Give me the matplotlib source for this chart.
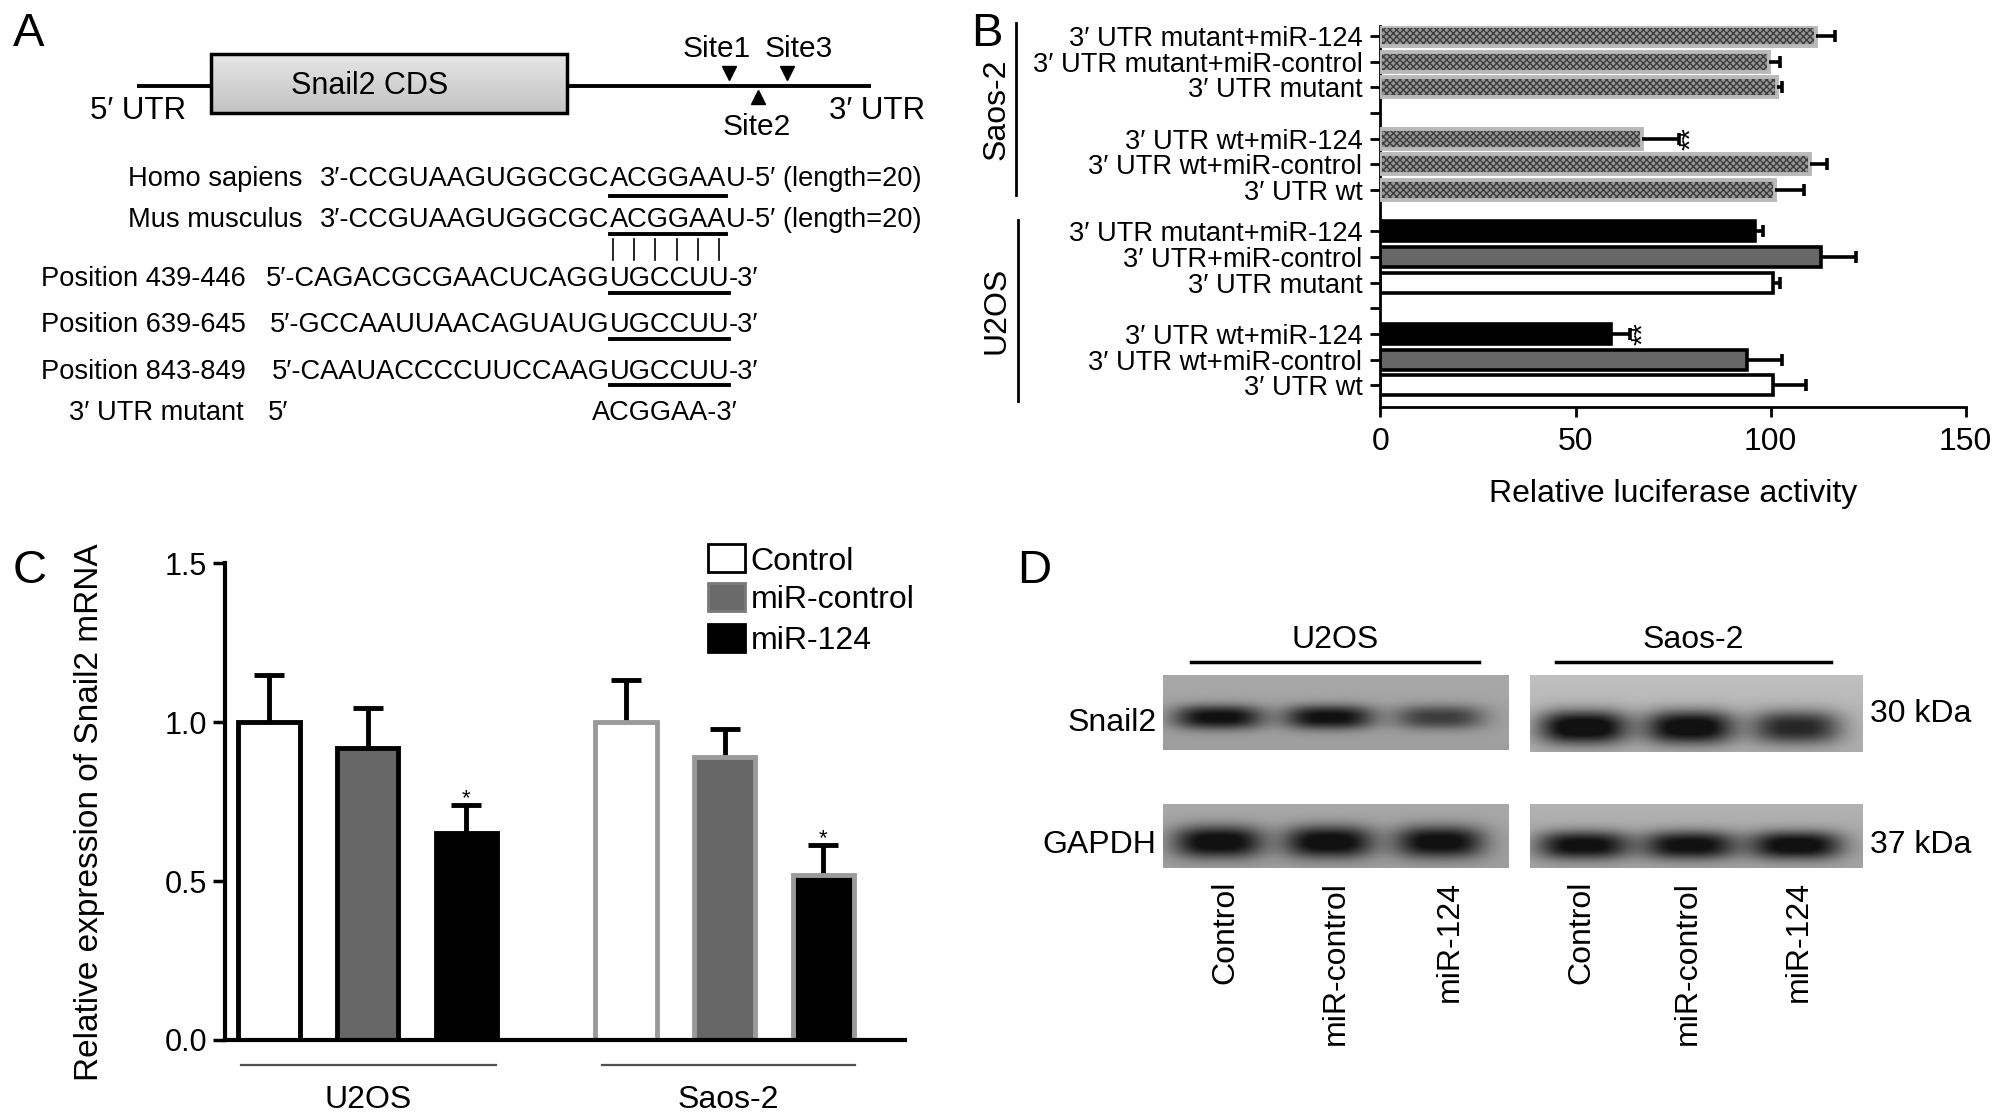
import numpy as np
import matplotlib
matplotlib.use("Agg")
import matplotlib.pyplot as plt
from matplotlib.patches import Rectangle

plt.rcParams['font.family'] = ['Liberation Sans', 'DejaVu Sans']
plt.rcParams['hatch.linewidth'] = 1.0

# ---------------- data ----------------
# Panel B: relative luciferase activity (bottom-to-top within each cell line)
u2os_b_labels = ["3′ UTR wt", "3′ UTR wt+miR-control", "3′ UTR wt+miR-124",
                 "3′ UTR mutant", "3′ UTR+miR-control", "3′ UTR mutant+miR-124"]
u2os_b_values = [100.5, 94.0, 59.0, 100.5, 113.0, 96.0]
u2os_b_errors = [8.5, 9.0, 5.0, 2.0, 9.0, 2.0]
saos_b_labels = ["3′ UTR wt", "3′ UTR wt+miR-control", "3′ UTR wt+miR-124",
                 "3′ UTR mutant", "3′ UTR mutant+miR-control", "3′ UTR mutant+miR-124"]
saos_b_values = [101.0, 110.0, 67.0, 101.5, 99.5, 111.5]
saos_b_errors = [7.5, 4.5, 9.5, 1.5, 3.0, 5.0]
b_xticks = [0, 50, 100, 150]
b_significant = ["3′ UTR wt+miR-124"]

# Panel C: relative expression of Snail2 mRNA
c_conditions = ["Control", "miR-control", "miR-124"]
c_cell_lines = ["U2OS", "Saos-2"]
c_u2os_values = [1.00, 0.92, 0.65]
c_u2os_errors = [0.15, 0.124, 0.088]
c_saos_values = [1.00, 0.89, 0.52]
c_saos_errors = [0.133, 0.09, 0.093]
c_significant = ["miR-124"]
c_yticks = [0.0, 0.5, 1.0, 1.5]

# Panel D: western blot band darkness (per lane)
d_lanes = ["Control", "miR-control", "miR-124"]
d_snail2_u2os = [0.60, 0.60, 0.40]
d_snail2_saos = [0.74, 0.72, 0.56]
d_gapdh_u2os = [0.64, 0.64, 0.62]
d_gapdh_saos = [0.64, 0.64, 0.66]

# ---------------- figure ----------------
W, H = 1568.0, 873.0
fig = plt.figure(figsize=(20.08, 11.18), dpi=100)


def box(x0, y0, x1, y1):
    return [x0 / W, 1 - y1 / H, (x1 - x0) / W, (y1 - y0) / H]


ov = fig.add_axes([0, 0, 1, 1], zorder=10)
ov.set_xlim(0, W)
ov.set_ylim(H, 0)
ov.axis('off')
renderer = fig.canvas.get_renderer()


def tb(x, yc, s, fs=19.6, ha='left', **kw):
    return ov.text(x, yc + 0.388 * fs, s, ha=ha, va='baseline', fontsize=fs, **kw)


def right_end(t):
    bb = t.get_window_extent(renderer=renderer)
    return ov.transData.inverted().transform((bb.x1, bb.y0))[0]


# ---------------- Panel A ----------------
tb(10, 23, "A", fs=34)
ov.plot([107, 680], [67, 67], color='k', lw=2.8, solid_capstyle='butt', zorder=1)
grad = np.linspace(0.90, 0.76, 60)[:, None] * np.ones((1, 10))
ov.imshow(grad, cmap='gray', vmin=0, vmax=1, extent=(165, 443, 88, 42),
          aspect='auto', zorder=2, interpolation='bilinear')
ov.add_patch(Rectangle((165, 42), 278, 46, fill=False, ec='k', lw=2.5, zorder=3))
tb(289, 65, "Snail2 CDS", fs=22, ha='center', zorder=4)
tb(108, 84, "5′ UTR", fs=22.5, ha='center')
tb(685, 84, "3′ UTR", fs=22.5, ha='center')
tb(560, 36, "Site1", fs=21.5, ha='center')
tb(624, 36, "Site3", fs=21.5, ha='center')
tb(591, 97, "Site2", fs=21.5, ha='center')
ov.plot([569, 614.5], [57, 57], ls='none', marker='v', ms=9.5, color='k')
ov.plot([592], [76], ls='none', marker='^', ms=9.5, color='k')

MX = 476.0
FS = 19.6


def seq(yc, label, lab_r, pre, motif, suf):
    tb(lab_r, yc, label, ha='right')
    tb(MX, yc, pre, ha='right')
    t = tb(MX, yc, motif)
    x1 = right_end(t)
    tb(x1, yc, suf)
    return x1


x1 = seq(138, "Homo sapiens", 236, "3′-CCGUAAGUGGCGC", "ACGGAA", "U-5′ (length=20)")
ov.plot([MX, x1], [153, 153], color='k', lw=2.8)
x1 = seq(170, "Mus musculus", 236, "3′-CCGUAAGUGGCGC", "ACGGAA", "U-5′ (length=20)")
ov.plot([MX, x1], [183, 183], color='k', lw=2.8)
for i in range(6):
    xb = MX + (x1 - MX) * (0.03 + 0.182 * i)
    ov.plot([xb, xb], [187, 203], color='k', lw=1.2)
for yc, lab, pre in [(216, "Position 439-446", "5′-CAGACGCGAACUCAGG"),
                     (252, "Position 639-645", "5′-GCCAAUUAACAGUAUG"),
                     (288, "Position 843-849", "5′-CAAUACCCCUUCCAAG")]:
    x1 = seq(yc, lab, 192, pre, "UGCCUU", "-3′")
    ov.plot([MX, x1], [yc + 13, yc + 13], color='k', lw=2.8)
tb(190, 320, "3′ UTR mutant", ha='right')
tb(209, 320, "5′")
tb(462, 320, "ACGGAA-3′")

# ---------------- Panel B ----------------
tb(758, 23, "B", fs=34)
axB = fig.add_axes(box(1078, 20, 1535, 318))
axB.set_facecolor('none')
pos_u = np.array([0, 1, 2, 4, 5, 6], float)
pos_s = pos_u + 7.6
gap_ticks = [3.0, 10.6]
BH = 0.78
uv, ue = np.array(u2os_b_values), np.array(u2os_b_errors)
sv, se = np.array(saos_b_values), np.array(saos_b_errors)
axB.barh(pos_u, uv, height=BH, color=['white', '#676767', 'black'] * 2,
         edgecolor='k', linewidth=2.6, zorder=2)
axB.barh(pos_s, sv, height=BH, color='#969696', edgecolor='#3c3c3c',
         hatch='xxxxx', linewidth=0, zorder=2)
axB.barh(pos_s, sv, height=BH, fill=False, edgecolor='#b9b9b9', linewidth=2.8, zorder=3)
for p, v, e in [(pos_u, uv, ue), (pos_s, sv, se)]:
    axB.hlines(p, v, v + e, color='k', lw=2.6, zorder=4)
    axB.plot(v + e, p, ls='none', marker='|', ms=8, mew=2.6, color='k', zorder=4)
for p, v, e, labs in [(pos_u, uv, ue, u2os_b_labels), (pos_s, sv, se, saos_b_labels)]:
    for i, lab in enumerate(labs):
        if lab in b_significant:
            axB.text(v[i] + e[i] + 3.2, p[i], "**", rotation=90, ha='center',
                     va='center', fontsize=21)
axB.set_yticks(np.concatenate([pos_u, pos_s, gap_ticks]))
axB.set_yticklabels(u2os_b_labels + saos_b_labels + ["", ""], fontsize=19.6)
axB.set_ylim(-0.85, 14.0)
axB.set_xlim(0, 150)
axB.set_xticks(b_xticks)
axB.tick_params(axis='x', labelsize=23, length=7, width=2, pad=7)
axB.tick_params(axis='y', length=7, width=2, pad=6)
for s in ['top', 'right']:
    axB.spines[s].set_visible(False)
for s in ['left', 'bottom']:
    axB.spines[s].set_linewidth(2)
axB.set_xlabel("Relative luciferase activity", fontsize=23, labelpad=16)
ov.plot([793, 793], [18, 152], color='k', lw=2)
ov.text(778, 85, "Saos-2", rotation=90, ha='center', va='center', fontsize=23)
ov.plot([795, 795], [172, 313], color='k', lw=2)
ov.text(778, 242, "U2OS", rotation=90, ha='center', va='center', fontsize=23)

# ---------------- Panel C ----------------
tb(10, 442, "C", fs=34)
axC = fig.add_axes(box(176, 440, 707, 812))
axC.set_facecolor('none')
pc_u = np.arange(3.0)
pc_s = pc_u + 3.62
CW = 0.62
c_fill = ['white', '#666666', 'black']
cuv, cue = np.array(c_u2os_values), np.array(c_u2os_errors)
csv, cse = np.array(c_saos_values), np.array(c_saos_errors)
axC.bar(pc_u, cuv, width=CW, color=c_fill, edgecolor='k', lw=3.5, zorder=2)
axC.bar(pc_s, csv, width=CW, color=c_fill, edgecolor='#9a9a9a', lw=3.5, zorder=2)
for p, v, e in [(pc_u, cuv, cue), (pc_s, csv, cse)]:
    axC.vlines(p, v, v + e, color='k', lw=3.5, zorder=1)
    axC.plot(p, v + e, ls='none', marker='_', ms=22, mew=3.5, color='k', zorder=3)
    for i, cond in enumerate(c_conditions):
        if cond in c_significant:
            axC.text(p[i], v[i] + e[i] + 0.004, "*", ha='center', va='baseline', fontsize=16)
axC.set_ylim(0, 1.5)
axC.set_xlim(-0.442, 6.454)
axC.set_yticks(c_yticks)
axC.set_yticklabels([f"{t:.1f}" for t in c_yticks])
axC.set_xticks([])
axC.tick_params(axis='y', labelsize=22, length=9, width=2.5, pad=4)
for s in ['top', 'right']:
    axC.spines[s].set_visible(False)
for s in ['left', 'bottom']:
    axC.spines[s].set_linewidth(3)
ov.text(70, 634, "Relative expression of Snail2 mRNA", rotation=90,
        ha='center', va='center', fontsize=24)
for (xa, xb), name in zip([(188, 387), (470, 668)], c_cell_lines):
    ov.plot([xa, xb], [832, 832], color='#505050', lw=1.6)
    tb((xa + xb) / 2, 856, name, fs=23, ha='center')
for yc, lab, fc, ec in zip([436, 466, 498], c_conditions,
                           ['white', '#6a6a6a', 'black'], ['k', '#7a7a7a', 'k']):
    ov.add_patch(Rectangle((553, yc - 11), 29, 22, fc=fc, ec=ec, lw=2))
    tb(586, yc, lab, fs=23)

# ---------------- Panel D ----------------
tb(794, 442, "D", fs=34)


def blot(b, amps, cy, sx, sy, bg_top, bg_bot):
    ny, nx = 90, 400
    yy, xx = np.mgrid[0:1:ny * 1j, 0:1:nx * 1j]
    img = bg_top + (bg_bot - bg_top) * yy
    for i, a in enumerate(amps):
        c = 0.16 + 0.32 * i
        img = img - a * np.exp(-np.abs((xx - c) / sx) ** 3) * np.exp(-np.abs((yy - cy) / sy) ** 2.4)
    ax = fig.add_axes(box(*b))
    ax.imshow(np.clip(img, 0.07, 1), cmap='gray', vmin=0, vmax=1, aspect='auto',
              interpolation='bilinear')
    ax.axis('off')


blot((908, 527, 1178, 586), d_snail2_u2os, 0.57, 0.13, 0.16, 0.66, 0.62)
blot((1195, 527, 1455, 587), d_snail2_saos, 0.68, 0.135, 0.22, 0.75, 0.68)
blot((908, 628, 1178, 678), d_gapdh_u2os, 0.60, 0.13, 0.25, 0.66, 0.62)
blot((1195, 628, 1455, 678), d_gapdh_saos, 0.65, 0.14, 0.22, 0.70, 0.64)

for (xa, xb), name in zip([(930, 1155), (1215, 1430)], c_cell_lines):
    ov.plot([xa, xb], [517, 517], color='k', lw=2.5)
    tb((xa + xb) / 2, 497, name, fs=23, ha='center')
tb(903, 562, "Snail2", fs=23, ha='right')
tb(903, 657, "GAPDH", fs=23, ha='right')
tb(1460, 555, "30 kDa", fs=23)
tb(1460, 657, "37 kDa", fs=23)
for xc, lab in zip([957, 1043, 1132, 1235, 1318, 1405], d_lanes * 2):
    ov.text(xc, 688, lab, rotation=90, ha='center', va='top', fontsize=23)

ov.set_xlim(0, W)
ov.set_ylim(H, 0)
fig.savefig("out.png", dpi=100)
